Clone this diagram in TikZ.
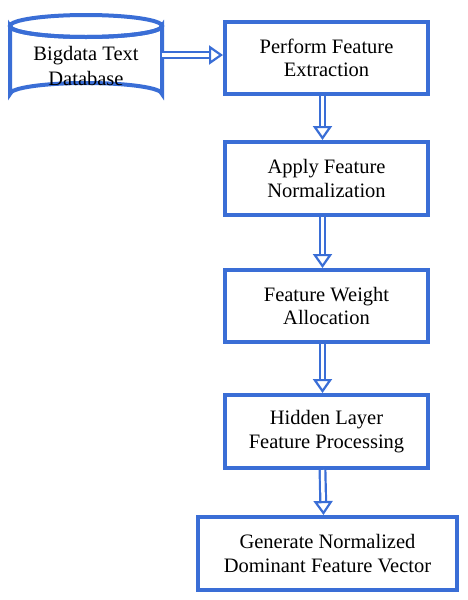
\documentclass[tikz,border=0pt]{standalone}
\usepackage{fontspec}
\setmainfont{Liberation Serif}
\usetikzlibrary{arrows.meta}
\definecolor{fblue}{RGB}{58,110,214}
\begin{document}
\begin{tikzpicture}[x=1pt,y=-1pt,
  procbox/.style={draw=fblue, line width=4pt, fill=white, rectangle, align=center,
     font=\fontsize{20.5}{23.5}\selectfont, inner sep=0pt},
  dblarrow/.style={draw=fblue, double=white, double distance=3.5pt, line width=2.2pt,
     -{Triangle[open, length=14pt, width=19pt, line width=2.2pt]}, shorten >=0pt}]
\useasboundingbox (0,0) rectangle (468,600);
% database cylinder
\draw[fblue, line width=4pt, fill=white]
  (10,26) -- (10,94) arc[start angle=180, end angle=360, x radius=76, y radius=11]
  -- (162,26) arc[start angle=0, end angle=180, x radius=76, y radius=11] -- cycle;
\draw[fblue, line width=4pt] (86,26) ellipse[x radius=76, y radius=11];
\node[align=center, font=\fontsize{20.5}{24.5}\selectfont, minimum width=152pt, minimum height=60pt, inner sep=0pt] (db) at (86,66) {Bigdata Text\\Database};
% boxes
\node[procbox, minimum width=203pt, minimum height=72pt] (b1) at (326.5,58) {Perform Feature\\Extraction};
\node[procbox, minimum width=203pt, minimum height=73pt] (b2) at (326.5,178.5) {Apply Feature\\Normalization};
\node[procbox, minimum width=203pt, minimum height=72pt] (b3) at (326.5,306) {Feature Weight\\Allocation};
\node[procbox, minimum width=203pt, minimum height=73pt] (b4) at (326.5,431.5) {Hidden Layer\\Feature Processing};
\node[procbox, minimum width=259pt, minimum height=73pt] (b5) at (327.5,553.5) {Generate Normalized\\Dominant Feature Vector};
% arrows
\draw[dblarrow] (db.east |- 0,55) -- (b1.west |- 0,55);
\draw[dblarrow] ([xshift=-4pt]b1.south) -- ([xshift=-4pt]b2.north);
\draw[dblarrow] ([xshift=-4pt]b2.south) -- ([xshift=-4pt]b3.north);
\draw[dblarrow] ([xshift=-4pt]b3.south) -- ([xshift=-4pt]b4.north);
\draw[dblarrow] ([xshift=-4pt]b4.south) -- ([xshift=-4pt]b5.north);
\end{tikzpicture}
\end{document}
